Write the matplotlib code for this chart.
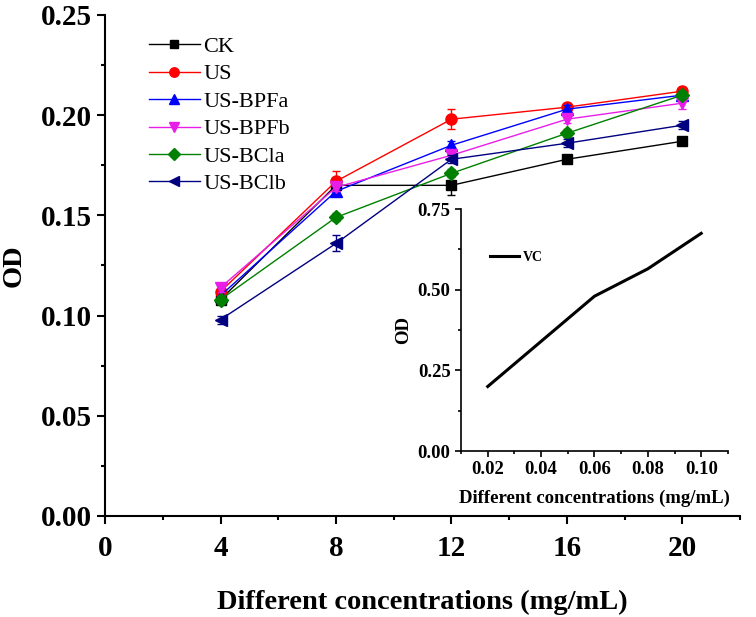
import matplotlib
matplotlib.use("Agg")
import matplotlib.pyplot as plt
from matplotlib.ticker import MultipleLocator

plt.rcParams['font.family'] = ['Liberation Serif', 'DejaVu Serif']

conc = [4, 8, 12, 16, 20]
series = ["CK", "US", "US-BPFa", "US-BPFb", "US-BCla", "US-BClb"]
ck = [0.108, 0.165, 0.165, 0.178, 0.187]
us = [0.112, 0.167, 0.198, 0.204, 0.212]
bpfa = [0.110, 0.162, 0.185, 0.203, 0.210]
bpfb = [0.114, 0.164, 0.180, 0.198, 0.206]
bcla = [0.108, 0.149, 0.171, 0.191, 0.210]
bclb = [0.098, 0.136, 0.178, 0.186, 0.195]
ck_err = [0.002, 0.002, 0.005, 0.002, 0.002]
us_err = [0.002, 0.005, 0.005, 0.002, 0.002]
bpfa_err = [0.002, 0.002, 0.002, 0.002, 0.002]
bpfb_err = [0.002, 0.002, 0.002, 0.002, 0.003]
bcla_err = [0.002, 0.002, 0.002, 0.002, 0.002]
bclb_err = [0.002, 0.004, 0.002, 0.002, 0.002]

vc_conc = [0.02, 0.04, 0.06, 0.08, 0.10]
vc = [0.20, 0.34, 0.48, 0.565, 0.675]

values = [ck, us, bpfa, bpfb, bcla, bclb]
errs = [ck_err, us_err, bpfa_err, bpfb_err, bcla_err, bclb_err]
colors = ["#000000", "#FF0000", "#0000FF", "#E81EE8", "#008000", "#000080"]
markers = ["s", "o", "^", "v", "D", "<"]
msizes = [7, 8, 8, 8, 7, 8]

fig = plt.figure(figsize=(7.56, 6.17), dpi=100)
ax = fig.add_axes([0.139, 0.1637, 0.84, 0.812])
for name, v, e, c, m, ms in zip(series, values, errs, colors, markers, msizes):
    ax.errorbar(conc, v, yerr=e, color=c, fmt="none", elinewidth=1, capsize=3, capthick=1)
    ax.plot(conc, v, color=c, marker=m, markersize=ms, lw=1, label=name)

ax.set_xlim(0, 22)
ax.set_ylim(0, 0.25)
ax.xaxis.set_major_locator(MultipleLocator(4))
ax.xaxis.set_minor_locator(MultipleLocator(2))
ax.yaxis.set_minor_locator(MultipleLocator(0.025))
ax.set_yticks([0, 0.05, 0.10, 0.15, 0.20, 0.25])
ax.set_yticklabels(["0.00", "0.05", "0.10", "0.15", "0.20", "0.25"])
for s in ["top", "right"]:
    ax.spines[s].set_visible(False)
for s in ["left", "bottom"]:
    ax.spines[s].set_linewidth(1.5)
ax.tick_params(which="major", direction="out", length=6, width=1.5, labelsize=21)
ax.tick_params(axis="x", which="major", pad=8)
ax.tick_params(which="minor", direction="out", length=3, width=1.5)
for lbl in ax.get_xticklabels() + ax.get_yticklabels():
    lbl.set_fontweight("bold")
ax.set_xlabel("Different concentrations (mg/mL)", fontsize=20.5, fontweight="bold", labelpad=20)
ax.set_ylabel("OD", fontsize=20.5, fontweight="bold", labelpad=10)
leg = ax.legend(loc="upper left", bbox_to_anchor=(0.037, 0.997), frameon=False,
                fontsize=16, handlelength=2.3, handletextpad=0.15, labelspacing=0.31,
                markerscale=0.85)

# inset
ins = fig.add_axes([0.6098, 0.269, 0.353, 0.392])
ins.plot(vc_conc, vc, color="black", lw=2.2, label="VC")
ins.set_xlim(0.01, 0.11)
ins.set_ylim(0, 0.75)
ins.set_xticks(vc_conc)
ins.set_xticklabels(["0.02", "0.04", "0.06", "0.08", "0.10"])
ins.xaxis.set_minor_locator(MultipleLocator(0.01))
ins.set_yticks([0, 0.25, 0.5, 0.75])
ins.set_yticklabels(["0.00", "0.25", "0.50", "0.75"])
ins.yaxis.set_minor_locator(MultipleLocator(0.125))
for s in ["top", "right"]:
    ins.spines[s].set_visible(False)
for s in ["left", "bottom"]:
    ins.spines[s].set_linewidth(1.2)
ins.tick_params(which="major", direction="out", length=4, width=1.2, labelsize=13.5)
ins.tick_params(which="minor", direction="out", length=2.5, width=1.2)
for lbl in ins.get_xticklabels() + ins.get_yticklabels():
    lbl.set_fontweight("bold")
ins.set_xlabel("Different concentrations (mg/mL)", fontsize=13.5, fontweight="bold", labelpad=8)
ins.set_ylabel("OD", fontsize=13.5, fontweight="bold")
ins.legend(loc="upper left", bbox_to_anchor=(0.06, 0.88), frameon=False,
           prop={"weight": "bold", "size": 10}, handlelength=2.1, handletextpad=0.3)

fig.savefig("out.png", dpi=100)
